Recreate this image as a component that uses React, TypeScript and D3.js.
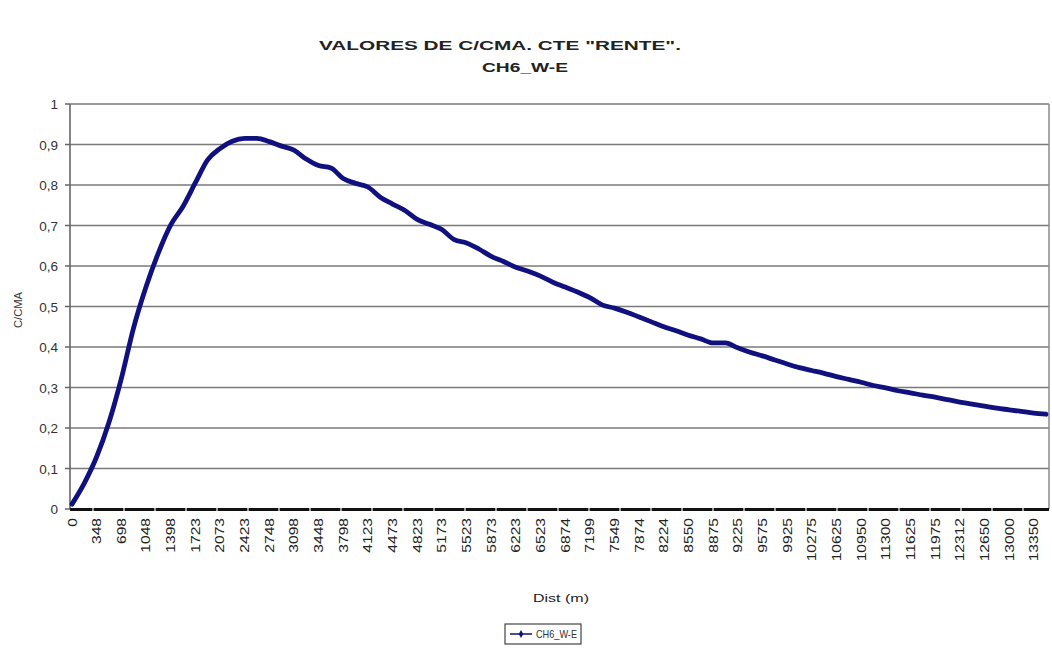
import React from "react";
import * as d3 from "d3";

const titleLine1 = 'VALORES DE C/CMA. CTE "RENTE".';
const titleLine2 = "CH6_W-E";
const yAxisTitle = "C/CMA";
const xAxisTitle = "Dist (m)";
const seriesName = "CH6_W-E";

const tickLabels = [
  "0", "348", "698", "1048", "1398", "1723", "2073", "2423", "2748", "3098",
  "3448", "3798", "4123", "4473", "4823", "5173", "5523", "5873", "6223", "6523",
  "6874", "7199", "7549", "7874", "8224", "8550", "8875", "9225", "9575", "9925",
  "10275", "10625", "10950", "11300", "11625", "11975", "12312", "12650", "13000", "13350",
];

// sampled every half label interval
const values = [
  0.012, 0.064, 0.129, 0.214, 0.322, 0.448, 0.548, 0.632, 0.701, 0.747,
  0.805, 0.862, 0.89, 0.908, 0.915, 0.915, 0.907, 0.896, 0.886, 0.864,
  0.848, 0.842, 0.816, 0.804, 0.795, 0.77, 0.753, 0.737, 0.715, 0.703,
  0.69, 0.665, 0.657, 0.642, 0.624, 0.611, 0.597, 0.587, 0.575, 0.56,
  0.548, 0.536, 0.522, 0.504, 0.496, 0.486, 0.474, 0.462, 0.45, 0.44,
  0.429, 0.42, 0.41, 0.41, 0.398, 0.387, 0.378, 0.368, 0.358, 0.349,
  0.342, 0.335, 0.327, 0.32, 0.313, 0.305, 0.299, 0.292, 0.287, 0.281,
  0.276, 0.27, 0.264, 0.259, 0.254, 0.249, 0.245, 0.241, 0.237, 0.234,
];

const yTicks = [0, 0.1, 0.2, 0.3, 0.4, 0.5, 0.6, 0.7, 0.8, 0.9, 1];

const W = 1052;
const H = 651;
const plotLeft = 70;
const plotRight = 1049;
const plotTop = 104;
const plotBottom = 509;
const font = "'Liberation Sans', Arial, sans-serif";
const navy = "#10107f";

export default function App() {
  const x = d3.scaleLinear().domain([0, values.length - 1]).range([72, 1046]);
  const y = d3.scaleLinear().domain([0, 1]).range([plotBottom, plotTop]);
  const line = d3
    .line<number>()
    .x((_, i) => x(i))
    .y((d) => y(d))
    .curve(d3.curveMonotoneX);

  const fmt = (v: number) => (v === 0 ? "0" : v === 1 ? "1" : d3.format(".1f")(v).replace(".", ","));
  const axisTicks = d3.range(plotLeft + 23, plotRight, 31);

  return (
    <svg
      width={W}
      height={H}
      style={{ position: "absolute", left: 0, top: 0, background: "#fff" }}
      fontFamily={font}
    >
      <rect x={0} y={0} width={W} height={H} fill="#fff" />
      {/* title */}
      <text x={500} y={50} textAnchor="middle" fontSize={13} fontWeight="bold" fill="#222"
        textLength={362} lengthAdjust="spacingAndGlyphs">{titleLine1}</text>
      <text x={525} y={72} textAnchor="middle" fontSize={13} fontWeight="bold" fill="#222"
        textLength={86} lengthAdjust="spacingAndGlyphs">{titleLine2}</text>

      {/* gridlines */}
      {yTicks.map((t) => (
        <line key={"g" + t} x1={plotLeft} x2={plotRight} y1={y(t)} y2={y(t)}
          stroke="#7a7a7a" strokeWidth={1.6} />
      ))}
      <line x1={plotRight} x2={plotRight} y1={plotTop} y2={plotBottom} stroke="#8a8a8a" strokeWidth={1.5} />
      {/* y axis */}
      <line x1={plotLeft} x2={plotLeft} y1={plotTop} y2={plotBottom} stroke="#666" strokeWidth={1.6} />
      {yTicks.map((t) => (
        <g key={"yt" + t}>
          <line x1={plotLeft - 5} x2={plotLeft} y1={y(t)} y2={y(t)} stroke="#666" strokeWidth={1.5} />
          <text x={plotLeft - 12} y={y(t) + 5} textAnchor="end" fontSize={13.5} fill="#333">{fmt(t)}</text>
        </g>
      ))}
      <text transform={`translate(22,${310}) rotate(-90)`} textAnchor="middle" fontSize={10} fill="#333"
        textLength={36} lengthAdjust="spacingAndGlyphs">{yAxisTitle}</text>

      {/* x axis */}
      <line x1={plotLeft} x2={plotRight} y1={plotBottom + 0.5} y2={plotBottom + 0.5} stroke="#111" strokeWidth={3.2} />
      {axisTicks.map((t) => (
        <line key={"xt" + t} x1={t} x2={t} y1={plotBottom - 1} y2={plotBottom + 4} stroke="#fff" strokeWidth={1.2} />
      ))}
      {tickLabels.map((lab, i) => (
        <text key={"xl" + i}
          transform={`translate(${x(i * 2) + 4.5},${518}) rotate(-90) scale(1.3,1)`}
          textAnchor="end" fontSize={12} fill="#222">{lab}</text>
      ))}
      <text x={561} y={602} textAnchor="middle" fontSize={10.5} fill="#222"
        textLength={56} lengthAdjust="spacingAndGlyphs">{xAxisTitle}</text>

      {/* series */}
      <path d={line(values) ?? ""} fill="none" stroke={navy} strokeWidth={4.8} strokeLinejoin="round" strokeLinecap="round" />

      {/* legend */}
      <rect x={505} y={624} width={76} height={20} fill="#fff" stroke="#444" strokeWidth={1.2} />
      <line x1={510} x2={532} y1={634} y2={634} stroke={navy} strokeWidth={1.5} />
      <path d={d3.symbol(d3.symbolDiamond, 18)() ?? ""} transform="translate(521,634)" fill={navy} />
      <text x={536} y={638} fontSize={10.5} fill="#333" textLength={41} lengthAdjust="spacingAndGlyphs">{seriesName}</text>
    </svg>
  );
}
